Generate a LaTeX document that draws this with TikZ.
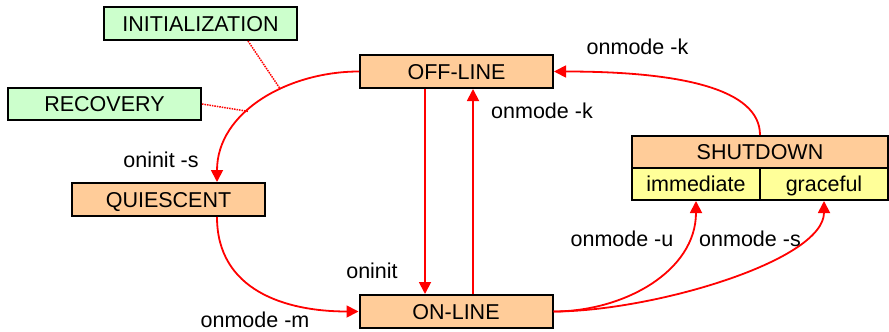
\documentclass[tikz,border=0pt]{standalone}
\usepackage{fontspec}
\setmainfont{Liberation Sans}
\usetikzlibrary{arrows.meta}
\begin{document}
\begin{tikzpicture}[x=1pt,y=-1pt,
  every node/.style={font=\fontsize{21.5}{25}\selectfont,text height=15.4pt,text depth=0pt},
  box/.style={draw=black,line width=2pt,inner sep=0pt,anchor=center},
  state/.style={box,fill=orangefill},
  note/.style={box,fill=greenfill},
  sub/.style={box,fill=yellowfill},
  lbl/.style={inner sep=0pt,anchor=center},
  conn/.style={draw=red,line width=1.8pt,-{Triangle[length=12pt,width=12pt]}},
  link/.style={draw=red,line width=1.5pt,densely dotted}]
\definecolor{orangefill}{HTML}{FFCC99}
\definecolor{greenfill}{HTML}{CCFFCC}
\definecolor{yellowfill}{HTML}{FFFF99}
\useasboundingbox (0,0) rectangle (889,332);

\node[note,minimum width=193pt,minimum height=33pt] (init) at (200.5,23.5) {INITIALIZATION};
\node[note,minimum width=193pt,minimum height=32pt] (rec) at (104.5,104) {RECOVERY};
\node[state,minimum width=193pt,minimum height=33pt] (off) at (456.5,71.5) {OFF-LINE};
\node[state,minimum width=193pt,minimum height=33pt] (quies) at (168.5,199.5) {QUIESCENT};
\node[state,minimum width=193pt,minimum height=33pt] (on) at (456,311.5) {ON-LINE};
\node[state,minimum width=256pt,minimum height=32pt] (shut) at (760,152) {SHUTDOWN};
\node[sub,minimum width=128pt,minimum height=32pt] (imm) at (696,184) {immediate};
\node[sub,minimum width=128pt,minimum height=32pt] (grace) at (824,184) {graceful};

\coordinate (qx) at (217,0);
\coordinate (dn) at (425,0);
\coordinate (upx) at (473,0);
\coordinate (ix) at (248,0);

% OFF-LINE -> QUIESCENT
\draw[conn] (off.west) to[out=180,in=90] coordinate[pos=0.39] (ci) coordinate[pos=0.59] (cr) (quies.north -| qx);
% QUIESCENT -> ON-LINE
\draw[conn] (quies.south -| qx) to[out=-90,in=180,looseness=1.1] (on.west);
% OFF-LINE <-> ON-LINE
\draw[conn] (off.south -| dn) -- (on.north -| dn);
\draw[conn] (on.north -| upx) -- (off.south -| upx);
% SHUTDOWN -> OFF-LINE
\draw[conn] (shut.north) .. controls +(0,-46) and +(127,0) .. (off.east);
% ON-LINE -> immediate / graceful
\draw[conn] (on.east) to[out=0,in=-90] (imm.south);
\draw[conn] (on.east) .. controls +(98,0) and +(0,60) .. (grace.south);

% note links
\draw[link] (init.south -| ix) -- (ci);
\draw[link] (rec.east) -- (cr);

% labels
\node[lbl] (l1) at (637.5,47) {onmode -k};
\node[lbl] (l2) at (542,111) {onmode -k};
\node[lbl] (l3) at (161,160) {oninit -s};
\node[lbl] (l4) at (255,319.5) {onmode -m};
\node[lbl] (l5) at (372,271) {oninit};
\node[lbl] (l6) at (622,239) {onmode -u};
\node[lbl] (l7) at (750,239) {onmode -s};
\end{tikzpicture}
\end{document}
